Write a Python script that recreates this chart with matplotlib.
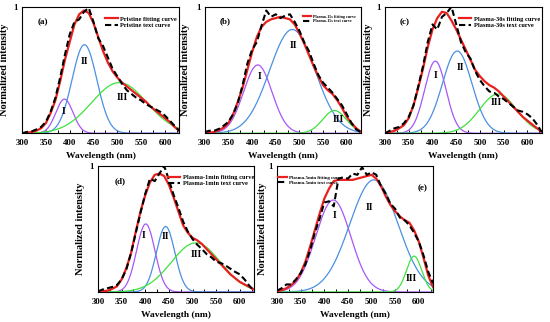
import numpy as np
import matplotlib
matplotlib.use("Agg")
import matplotlib.pyplot as plt

plt.rcParams['font.family'] = ['Liberation Serif', 'DejaVu Serif']
plt.rcParams['font.weight'] = 'bold'

# ---------------- data ----------------
panels = ["(a)", "(b)", "(c)", "(d)", "(e)"]
legend_names = ["Pristine", "Plasma-15s", "Plasma-30s", "Plasma-1min", "Plasma-5min"]
peak_names = ["I", "II", "III"]

# wavelengths of the sampled curves (nm)
wl = list(range(300, 631, 10))

# fitting curves (red)
fit_a = [0.00, 0.005, 0.01, 0.02, 0.04, 0.08, 0.16, 0.26, 0.41, 0.58, 0.72, 0.86, 0.94, 0.97, 0.95, 0.87,
         0.76, 0.65, 0.56, 0.49, 0.44, 0.40, 0.37, 0.34, 0.31, 0.28, 0.25, 0.21, 0.18, 0.15, 0.12, 0.09, 0.05, 0.02]
fit_b = [0.00, 0.005, 0.01, 0.025, 0.045, 0.08, 0.15, 0.25, 0.36, 0.50, 0.64, 0.76, 0.84, 0.88, 0.90, 0.91,
         0.92, 0.91, 0.90, 0.86, 0.79, 0.71, 0.62, 0.53, 0.45, 0.38, 0.34, 0.31, 0.26, 0.20, 0.13, 0.08, 0.04, 0.01]
fit_c = [0.005, 0.01, 0.02, 0.04, 0.065, 0.12, 0.22, 0.36, 0.51, 0.68, 0.82, 0.91, 0.96, 0.95, 0.89, 0.82,
         0.74, 0.66, 0.58, 0.50, 0.45, 0.41, 0.38, 0.36, 0.33, 0.29, 0.25, 0.21, 0.17, 0.13, 0.10, 0.07, 0.04, 0.013]
fit_d = [0.005, 0.007, 0.01, 0.025, 0.045, 0.10, 0.19, 0.31, 0.48, 0.64, 0.77, 0.87, 0.93, 0.94, 0.92, 0.85,
         0.75, 0.64, 0.53, 0.47, 0.43, 0.41, 0.38, 0.34, 0.30, 0.26, 0.22, 0.18, 0.14, 0.11, 0.08, 0.06, 0.04, 0.02]
fit_e = [0.005, 0.015, 0.03, 0.055, 0.09, 0.15, 0.24, 0.36, 0.49, 0.62, 0.74, 0.82, 0.88, 0.89, 0.89, 0.89,
         0.89, 0.90, 0.91, 0.92, 0.93, 0.90, 0.84, 0.76, 0.69, 0.64, 0.60, 0.57, 0.55, 0.49, 0.40, 0.27, 0.13, 0.04]
fit_curves = [fit_a, fit_b, fit_c, fit_d, fit_e]

exp_a = [0.00, 0.01, 0.015, 0.03, 0.05, 0.09, 0.17, 0.28, 0.44, 0.62, 0.78, 0.88, 0.90, 0.96, 0.99, 0.88,
         0.75, 0.69, 0.60, 0.51, 0.45, 0.39, 0.34, 0.31, 0.28, 0.26, 0.23, 0.21, 0.19, 0.17, 0.14, 0.10, 0.06, 0.02]
exp_b = [0.01, 0.02, 0.02, 0.035, 0.06, 0.09, 0.15, 0.24, 0.38, 0.55, 0.66, 0.72, 0.85, 0.97, 0.92, 0.94,
         0.91, 0.93, 0.94, 0.88, 0.81, 0.72, 0.65, 0.55, 0.46, 0.40, 0.36, 0.32, 0.27, 0.22, 0.15, 0.08, 0.03, 0.01]
exp_c = [0.00, 0.02, 0.04, 0.05, 0.08, 0.13, 0.22, 0.37, 0.53, 0.72, 0.86, 0.82, 0.92, 0.95, 1.00, 0.86,
         0.72, 0.64, 0.59, 0.49, 0.42, 0.37, 0.33, 0.32, 0.29, 0.27, 0.24, 0.21, 0.18, 0.17, 0.15, 0.12, 0.07, 0.01]
exp_d = [0.005, 0.02, 0.03, 0.04, 0.055, 0.10, 0.18, 0.31, 0.47, 0.63, 0.78, 0.90, 0.88, 0.94, 1.00, 0.89,
         0.77, 0.67, 0.56, 0.48, 0.42, 0.375, 0.34, 0.30, 0.275, 0.24, 0.23, 0.21, 0.185, 0.16, 0.14, 0.10, 0.05, 0.01]
exp_e = [0.01, 0.03, 0.06, 0.06, 0.10, 0.15, 0.22, 0.33, 0.47, 0.58, 0.71, 0.72, 0.68, 0.90, 0.91, 0.90,
         0.94, 0.93, 0.99, 0.93, 0.95, 0.93, 0.84, 0.78, 0.70, 0.66, 0.59, 0.57, 0.53, 0.47, 0.40, 0.29, 0.16, 0.07]
exp_curves = [exp_a, exp_b, exp_c, exp_d, exp_e]

# fitted Gaussian components: centre (nm), height, sigma (nm) for peaks I, II, III
centers = [[389, 431, 504], [412, 485, 574], [406, 452, 538], [401, 443, 507], [419, 505, 590]]
heights = [[0.27, 0.70, 0.40], [0.54, 0.82, 0.18], [0.57, 0.65, 0.31], [0.54, 0.52, 0.39], [0.73, 0.89, 0.285]]
sigmas = [[18, 26, 58], [30, 48, 25], [22.5, 31, 39], [19.5, 19.5, 52], [37, 51, 16]]

# label positions for I, II, III (nm, intensity)
label_pos = [[(387, 0.17), (432, 0.57), (511, 0.28)],
             [(416, 0.45), (487, 0.69), (583, 0.11)],
             [(406, 0.46), (459, 0.52), (535, 0.24)],
             [(396, 0.45), (442, 0.44), (507, 0.30)],
             [(421, 0.61), (495, 0.67), (585, 0.11)]]

# ---------------- layout ----------------
W, H = 550, 322
boxes = [(22, 6.7, 157.3, 126.6), (204.7, 6.7, 156.3, 126.6), (385, 6.7, 156.7, 126.6),
         (98, 166, 156, 126), (277, 166, 156, 126)]
comp_colors = ["#a757f7", "#4a90e2", "#3ee23e"]
leg_sizes = [4.6, 3.0, 4.6, 4.6, 3.4]
leg_locs = ["upper right", "upper right", "upper right", "upper right", "upper left"]
leg_anchor = [(0.985, 0.925), (0.965, 0.935), (0.99, 0.925), (1.0, 0.93), (0.005, 0.925)]
panel_xy = [(0.13, 0.877), (0.128, 0.887), (0.127, 0.877), (0.14, 0.88), (0.93, 0.82)]
ylabel_x = [-0.085, -0.094, -0.078, -0.083, -0.066]

fig = plt.figure(figsize=(W / 100, H / 100), dpi=100)
grid = np.linspace(300, 630, 661)

for k in range(5):
    x0, y0, w, h = boxes[k]
    ax = fig.add_axes([x0 / W, 1 - (y0 + h) / H, w / W, h / H])
    for j in range(3):
        g = heights[k][j] * np.exp(-(grid - centers[k][j]) ** 2 / (2 * sigmas[k][j] ** 2))
        ax.plot(grid, g, color=comp_colors[j], lw=0.9, zorder=2)
    ax.plot(wl, fit_curves[k], color="#e8201e", lw=1.6, zorder=3,
            label=f"{legend_names[k]} fitting curve")
    ax.plot(wl, exp_curves[k], color="black", lw=1.5, ls=(0, (3, 1.6)), zorder=4,
            label=f"{legend_names[k]} text curve")
    for j in range(3):
        ax.text(label_pos[k][j][0], label_pos[k][j][1], peak_names[j], fontsize=7,
                fontweight='bold', ha='center', va='center', zorder=5)
    ax.set_xlim(300, 630)
    ax.set_ylim(0, 1.0)
    ax.set_xticks([300, 350, 400, 450, 500, 550, 600])
    ax.set_xticks(np.arange(325, 630, 50), minor=True)
    ax.set_yticks([1])
    ax.set_yticklabels(["1"])
    ax.tick_params(axis='x', direction='in', length=2.5, width=0.7, labelsize=6.3, pad=4)
    ax.tick_params(axis='x', which='minor', direction='in', length=2.5, width=0.7)
    ax.tick_params(axis='y', length=0, labelsize=6.3, pad=3)
    for lbl in ax.get_xticklabels() + ax.get_yticklabels():
        lbl.set_fontweight('bold')
    for s in ax.spines.values():
        s.set_linewidth(0.8)
    ax.set_xlabel("Wavelength (nm)", fontsize=6.8, fontweight='bold', labelpad=4)
    ax.set_ylabel("Normalized intensity", fontsize=7.5, fontweight='bold')
    ax.yaxis.set_label_coords(ylabel_x[k], 0.5)
    ax.text(panel_xy[k][0], panel_xy[k][1], panels[k], transform=ax.transAxes,
            fontsize=6.5, fontweight='bold', ha='center', va='center')
    ax.legend(loc=leg_locs[k], bbox_to_anchor=leg_anchor[k], frameon=False,
              prop={'size': leg_sizes[k], 'weight': 'bold'},
              handlelength=1.9, handletextpad=0.4, labelspacing=0.1,
              borderpad=0, borderaxespad=0)

fig.savefig("out.png", dpi=100)
